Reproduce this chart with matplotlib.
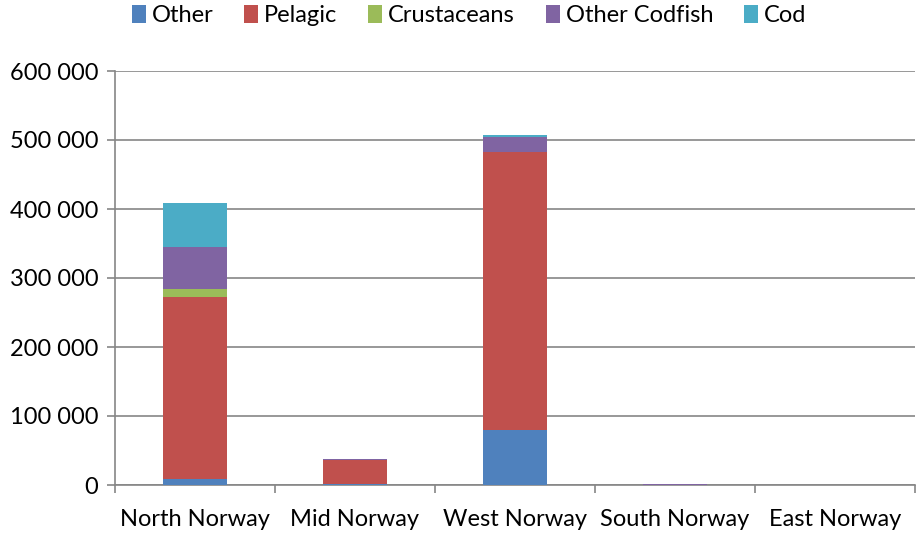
import numpy as np
import matplotlib.pyplot as plt
from matplotlib.ticker import FuncFormatter

plt.rcParams["font.family"] = ["Lato", "DejaVu Sans"]

regions = ["North Norway", "Mid Norway", "West Norway", "South Norway", "East Norway"]
series = ["Other", "Pelagic", "Crustaceans", "Other Codfish", "Cod"]
colors = ["#4f81bd", "#c0504d", "#9bbb59", "#8064a2", "#4bacc6"]

other = [9000, 1000, 79000, 300, 0]
pelagic = [263000, 35000, 404000, 300, 0]
crustaceans = [12000, 0, 0, 0, 0]
other_codfish = [61000, 1000, 22000, 300, 0]
cod = [64000, 0, 2000, 1000, 0]
values = [other, pelagic, crustaceans, other_codfish, cod]

fig = plt.figure(figsize=(9.16, 5.33), dpi=100)
ax = fig.add_axes([115 / 916, (533 - 485) / 533, 800 / 916, 414 / 533])

x = np.arange(len(regions))
bottom = np.zeros(len(regions))
for name, vals, c in zip(series, values, colors):
    ax.bar(x, vals, 0.4, bottom=bottom, color=c, label=name, zorder=3)
    bottom += np.array(vals)

ax.set_xlim(-0.5, len(regions) - 0.5)
ax.set_ylim(0, 600000)
ax.set_yticks(np.arange(0, 600001, 100000))
ax.yaxis.set_major_formatter(FuncFormatter(lambda v, p: f"{int(v):,}".replace(",", " ")))
ax.grid(axis="y", color="#868686", linewidth=1.2, zorder=0)

ax.set_xticks(x)
ax.set_xticklabels(regions)
ax.set_xticks(np.arange(-0.5, len(regions)), minor=True)
ax.tick_params(axis="x", which="major", length=0, pad=17, labelsize=17)
ax.tick_params(axis="x", which="minor", length=6, color="#868686", width=1.2)
ax.tick_params(axis="y", length=6, color="#868686", width=1.2, labelsize=17, pad=6)

for s in ["top", "right"]:
    ax.spines[s].set_visible(False)
for s in ["left", "bottom"]:
    ax.spines[s].set_color("#868686")
    ax.spines[s].set_linewidth(1.2)

fig.legend(loc="upper center", bbox_to_anchor=(0.512, 1.03), ncol=5, frameon=False,
           fontsize=17, handlelength=0.6, handleheight=0.8, handletextpad=0.25,
           columnspacing=1.3)

fig.savefig("out.png", dpi=100)
